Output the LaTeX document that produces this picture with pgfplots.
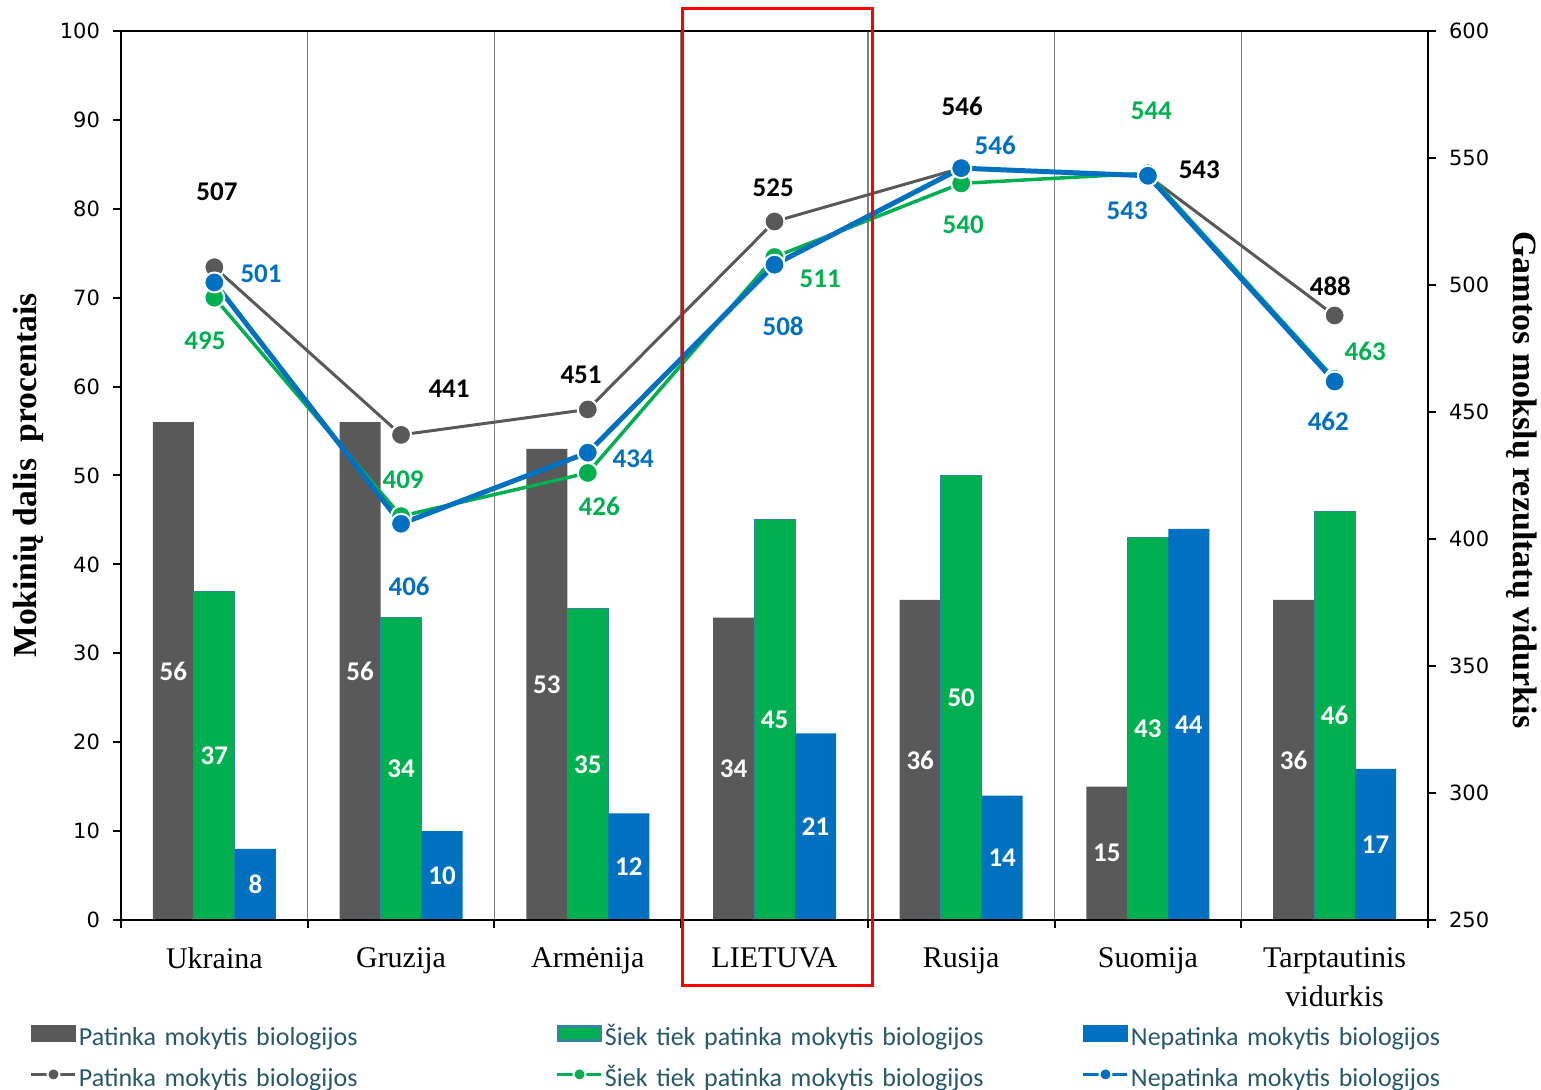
\documentclass[border=0pt]{standalone}
\usepackage{pgfplots}
\usepackage{pgfplotstable}
\pgfplotsset{compat=1.18}
\usepackage{fontspec}
\setmainfont{Liberation Serif}
\newfontfamily\carlito{Carlito}
\newfontfamily\dejavu{DejaVu Sans}
\definecolor{cgrey}{RGB}{89,89,89}
\definecolor{cgreen}{RGB}{0,176,80}
\definecolor{cblue}{RGB}{0,112,192}
\definecolor{cgreenedge}{RGB}{49,133,156}
\definecolor{clegend}{RGB}{38,88,106}
\definecolor{csep}{RGB}{128,128,128}
\pgfplotsset{/pgf/number format/assume math mode=true,
  linelegend/.style={legend image code/.code={\draw[##1, line width=1.5pt, mark size=3pt, mark repeat=2, mark phase=2] plot coordinates {(0pt,3pt)(11pt,3pt)(22pt,3pt)};}}}

\pgfplotstableread{
x grey green blue
0 56 37 8
1 56 34 10
2 53 35 12
3 34 45 21
4 36 50 14
5 15 43 44
6 36 46 17
}\bars
\pgfplotstableread{
x grey green blue
0 507 495 501
1 441 409 406
2 451 426 434
3 525 511 508
4 546 540 546
5 543 544 543
6 488 463 462
}\scores

\begin{document}
\begin{tikzpicture}
\begin{axis}[
  scale only axis, width=653.5pt, height=444.5pt,
  xmin=-0.5, xmax=6.5, ymin=0, ymax=100,
  axis on top,
  axis line style={line width=1pt},
  tick style={line width=1pt, black},
  tick align=outside, major tick length=4pt,
  ytick={0,10,...,100}, ytick pos=left,
  yticklabel style={font=\dejavu\fontsize{10.5}{12}\selectfont, xshift=-3pt},
  xtick={-0.5,0.5,...,6.5}, xticklabels={}, xtick pos=bottom,
  xmajorgrids, major grid style={csep, line width=0.75pt},
  extra x ticks={0,1,2,3,4,5,6},
  extra x tick labels={Ukraina,Gruzija,Armėnija,LIETUVA,Rusija,Suomija,{Tarptautinis\\vidurkis}},
  extra x tick style={grid=none, tick style={draw=none},
    xticklabel style={font=\fontsize{15}{19.5}\selectfont, align=center, yshift=-6.5pt}},
  ylabel={Mokinių dalis\ \ procentais},
  ylabel style={at={(axis description cs:-0.0712,0.5)}, anchor=center, rotate=0,
    font=\bfseries\fontsize{16.8}{18}\selectfont},
  ybar, bar width=20.5pt,
  nodes near coords,
  visualization depends on=rawy\as\rawy,
  every node near coord/.append style={shift={(axis direction cs:0,-\rawy/2)}, anchor=center,
    text=white, font=\carlito\bfseries\fontsize{13.5}{14}\selectfont},
]
\addplot[fill=cgrey, draw=none, bar shift=-20.5pt] table[x=x,y=grey]{\bars};
\addplot[fill=cgreen, draw=cgreenedge, line width=0.5pt, bar shift=0pt] table[x=x,y=green]{\bars};
\addplot[fill=cblue, draw=none, bar shift=20.5pt] table[x=x,y=blue]{\bars};
\end{axis}

\begin{axis}[
  scale only axis, width=653.5pt, height=444.5pt,
  xmin=-0.5, xmax=6.5, ymin=250, ymax=600,
  clip=false,
  axis x line=none, axis y line*=right,
  axis line style={line width=1pt},
  tick style={line width=1pt, black},
  tick align=outside, major tick length=4pt,
  ytick={250,300,...,600},
  yticklabel style={font=\dejavu\fontsize{10.5}{12}\selectfont, xshift=3pt},
  ylabel={Gamtos mokslų rezultatų vidurkis},
  ylabel style={at={(axis description cs:1.0719,0.495)}, anchor=center, rotate=180,
    font=\bfseries\fontsize{17}{18}\selectfont},
  legend columns=3,
  legend style={at={(rel axis cs:0,0)}, anchor=north west, xshift=-45.5pt, yshift=-52.5pt,
    draw=none, fill=none, inner sep=0pt, outer sep=0pt, row sep=8.5pt, column sep=0pt,
    nodes={text width=237.5pt, align=left, inner xsep=1pt, inner ysep=0pt, text height=9pt, text depth=3pt,
      font=\carlito\fontsize{13}{14}\selectfont, text=clegend}},
]
\coordinate (BL) at (rel axis cs:0,0);
\coordinate (TR) at (rel axis cs:1,1);
\addlegendimage{legend image code/.code={\fill[cgrey] (0pt,-1pt) rectangle (22pt,7pt);}}
\addlegendentry{Patinka mokytis biologijos}
\addlegendimage{legend image code/.code={\fill[cgreenedge] (0pt,-1pt) rectangle (22pt,7pt); \fill[cgreen] (1.5pt,0.5pt) rectangle (20.5pt,5.5pt);}}
\addlegendentry{Šiek tiek patinka mokytis biologijos}
\addlegendimage{legend image code/.code={\fill[cblue] (0pt,-1pt) rectangle (22pt,7pt);}}
\addlegendentry{Nepatinka mokytis biologijos}
\addplot[cgrey, line width=1.5pt, mark=*, mark size=5pt, mark options={draw=white, line width=1pt, fill=cgrey}, linelegend]
  table[x=x,y=grey]{\scores};
\addlegendentry{Patinka mokytis biologijos}
\addplot[cgreen, line width=1.75pt, mark=*, mark size=5pt, mark options={draw=white, line width=1pt, fill=cgreen}, linelegend]
  table[x=x,y=green]{\scores};
\addlegendentry{Šiek tiek patinka mokytis biologijos}
\addplot[cblue, line width=2.5pt, mark=*, mark size=5pt, mark options={draw=white, line width=1pt, fill=cblue}, linelegend]
  table[x=x,y=blue]{\scores};
\addlegendentry{Nepatinka mokytis biologijos}

\begin{scope}[font=\carlito\bfseries\fontsize{13.5}{14}\selectfont]
\node[black] at (axis cs:0.014,536.6) {507};
\node[black] at (axis cs:1.257,459.0) {441};
\node[black] at (axis cs:1.964,464.6) {451};
\node[black] at (axis cs:2.993,538.4) {525};
\node[black] at (axis cs:4.005,570.3) {546};
\node[black] at (axis cs:5.275,545.4) {543};
\node[black] at (axis cs:5.977,499.6) {488};
\node[cgreen] at (axis cs:-0.05,478.2) {495};
\node[cgreen] at (axis cs:1.011,423.3) {409};
\node[cgreen] at (axis cs:2.061,412.8) {426};
\node[cgreen] at (axis cs:3.245,502.4) {511};
\node[cgreen] at (axis cs:4.011,523.7) {540};
\node[cgreen] at (axis cs:5.018,568.5) {544};
\node[cgreen] at (axis cs:6.164,474.0) {463};
\node[cblue] at (axis cs:0.25,504.5) {501};
\node[cblue] at (axis cs:1.043,381.3) {406};
\node[cblue] at (axis cs:2.243,431.7) {434};
\node[cblue] at (axis cs:3.046,483.8) {508};
\node[cblue] at (axis cs:4.182,554.9) {546};
\node[cblue] at (axis cs:4.889,529.3) {543};
\node[cblue] at (axis cs:5.966,446.4) {462};
\end{scope}
\draw[red, line width=1.5pt] (axis cs:2.505,608.75) rectangle (axis cs:3.523,224.1);
\end{axis}
\pgfresetboundingbox
\path[use as bounding box] ([xshift=-60.5pt,yshift=-85pt]BL) rectangle ([xshift=56.5pt,yshift=15.5pt]TR);
\end{tikzpicture}
\end{document}
